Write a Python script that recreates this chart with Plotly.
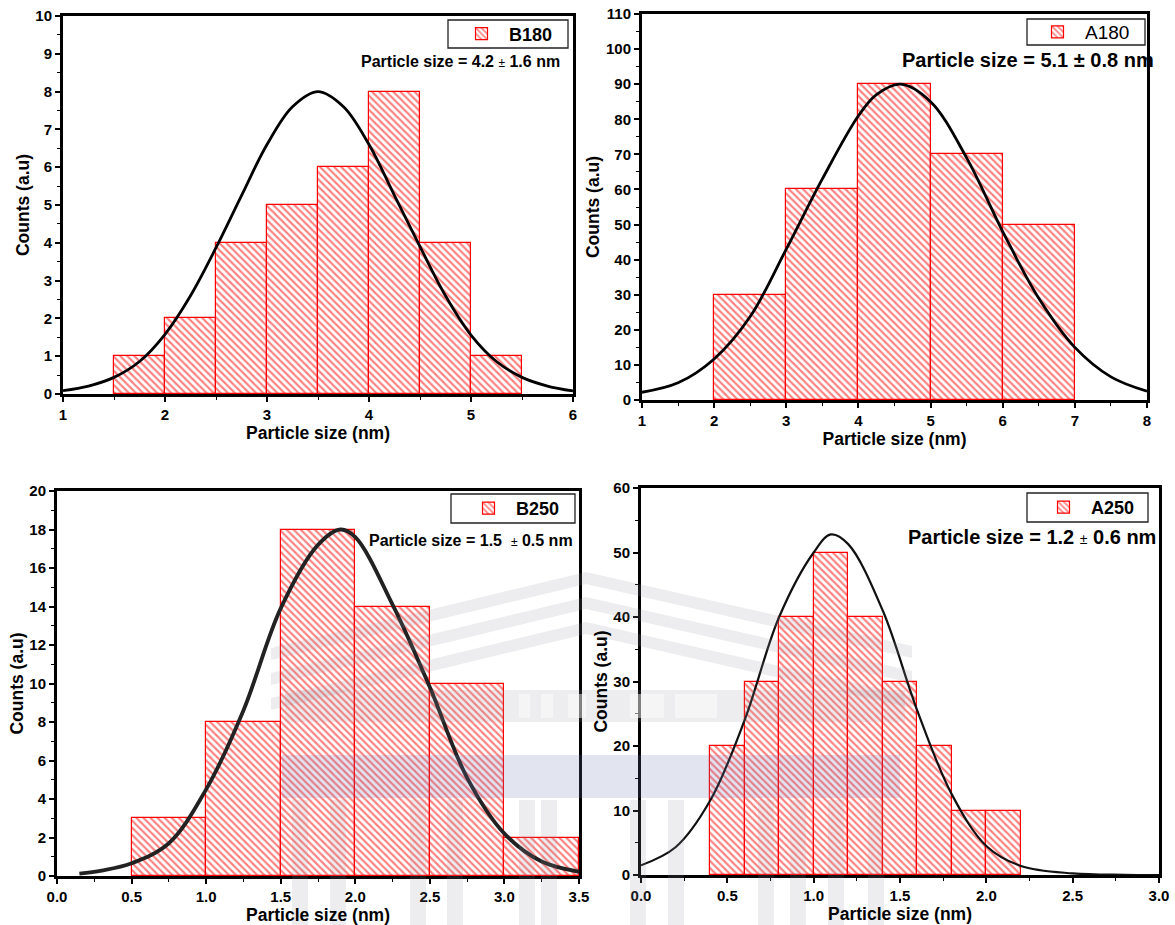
import plotly.graph_objects as go

W, H = 1175, 925

# ---------------- data ----------------
# B180
b180_bin_lo = [1.5, 2.0, 2.5, 3.0, 3.5, 4.0, 4.5, 5.0]
b180_bin_w = 0.5
b180_counts = [1, 2, 4, 5, 6, 8, 4, 1]
b180_curve_x = [1.0, 1.25, 1.5, 1.75, 2.0, 2.25, 2.5, 2.75, 3.0, 3.25, 3.5, 3.75, 4.0, 4.25, 4.5, 4.75, 5.0, 5.25, 5.5, 5.75, 6.0]
b180_curve_y = [0.09, 0.21, 0.44, 0.86, 1.58, 2.6, 3.87, 5.25, 6.6, 7.6, 8.0, 7.6, 6.6, 5.25, 3.9, 2.6, 1.56, 0.86, 0.44, 0.21, 0.08]

# A180
a180_bin_lo = [2, 3, 4, 5, 6]
a180_bin_w = 1.0
a180_counts = [30, 60, 90, 70, 50]
a180_curve_x = [1.0, 1.5, 2.0, 2.5, 3.0, 3.5, 4.0, 4.25, 4.58, 5.0, 5.5, 6.0, 6.5, 7.0, 7.5, 8.0]
a180_curve_y = [2.2, 4.9, 11.7, 23.8, 43, 63, 81, 87, 90, 85, 69, 48, 29, 15, 6.6, 2.5]

# B250
b250_bin_lo = [0.5, 1.0, 1.5, 2.0, 2.5, 3.0]
b250_bin_w = 0.5
b250_counts = [3, 8, 18, 14, 10, 2]
b250_curve_x = [0.15, 0.3, 0.5, 0.75, 1.0, 1.25, 1.5, 1.75, 1.9, 2.0, 2.25, 2.5, 2.75, 3.0, 3.25, 3.5]
b250_curve_y = [0.12, 0.28, 0.66, 1.7, 4.5, 8.6, 13.9, 17.2, 18.0, 17.6, 14.1, 9.8, 5.1, 2.2, 0.75, 0.22]

# A250
a250_bin_lo = [0.4, 0.6, 0.8, 1.0, 1.2, 1.4, 1.6, 1.8, 2.0]
a250_bin_w = 0.2
a250_counts = [20, 30, 40, 50, 40, 30, 20, 10, 10]
a250_curve_x = [0.0, 0.2, 0.4, 0.6, 0.8, 1.0, 1.1, 1.2, 1.4, 1.6, 1.8, 2.0, 2.2, 2.5, 2.8, 3.0]
a250_curve_y = [1.5, 4.3, 11.5, 24, 40, 50, 52.8, 51.3, 41, 25.5, 12.5, 4.5, 1.4, 0.25, 0.03, 0.0]

names = ["B180", "A180", "B250", "A250"]
x_ranges = [[1, 6], [1, 8], [0, 3.5], [0, 3.0]]
y_ranges = [[0, 10], [0, 110], [0, 20], [0, 60]]
x_dticks = [1, 1, 0.5, 0.5]
y_dticks = [1, 10, 2, 10]

# ---------------- layout geometry (pixels) ----------------
boxes = [  # left, right, top, bottom
    (63, 573, 16, 394),
    (642, 1147, 14, 400),
    (57, 579, 491, 876),
    (641, 1159, 488, 875),
]

FONT = "Liberation Sans, Arial, sans-serif"
RED = "#ff0000"

fig = go.Figure()

panels = [
    (b180_bin_lo, b180_bin_w, b180_counts, b180_curve_x, b180_curve_y),
    (a180_bin_lo, a180_bin_w, a180_counts, a180_curve_x, a180_curve_y),
    (b250_bin_lo, b250_bin_w, b250_counts, b250_curve_x, b250_curve_y),
    (a250_bin_lo, a250_bin_w, a250_counts, a250_curve_x, a250_curve_y),
]
curve_styles = [
    dict(color="#000000", width=2.8),
    dict(color="#000000", width=2.8),
    dict(color="#222222", width=3.8),
    dict(color="#111111", width=2.2),
]
legend_ids = ["legend", "legend2", "legend3", "legend4"]

for i, (lo, w, cnt, cx, cy) in enumerate(panels):
    sfx = "" if i == 0 else str(i + 1)
    centers = [v + w / 2 for v in lo]
    fig.add_trace(go.Bar(
        x=centers, y=cnt, width=w, name=names[i],
        xaxis="x" + sfx, yaxis="y" + sfx,
        marker=dict(color="white", line=dict(color=RED, width=1.2),
                    pattern=dict(shape="\\", fgcolor=RED, bgcolor="white",
                                 size=5, solidity=0.42)),
        legend=legend_ids[i], showlegend=True,
    ))
    fig.add_trace(go.Scatter(
        x=cx, y=cy, mode="lines", line=dict(shape="spline", **curve_styles[i]),
        xaxis="x" + sfx, yaxis="y" + sfx, showlegend=False,
    ))

layout = dict(
    width=W, height=H, margin=dict(l=0, r=0, t=0, b=0, autoexpand=False),
    paper_bgcolor="white", plot_bgcolor="white",
    barmode="overlay", bargap=0,
    font=dict(family=FONT, color="black"),
)

for i, (l, r, t, b) in enumerate(boxes):
    sfx = "" if i == 0 else str(i + 1)
    xd = [l / W, r / W]
    yd = [1 - b / H, 1 - t / H]
    tickfont = dict(family=FONT, size=15, weight="bold", color="black")
    layout["xaxis" + sfx] = dict(
        domain=xd, anchor="y" + sfx, range=x_ranges[i], dtick=x_dticks[i],
        tick0=0, showline=True, linewidth=3, linecolor="black", mirror=True,
        ticks="outside", ticklen=5, tickwidth=2, tickcolor="black",
        showgrid=False, zeroline=False, tickfont=tickfont,
        tickformat=".1f" if i >= 2 else "d",
        minor=dict(dtick=x_dticks[i] / 2, ticks="outside", ticklen=3, tickwidth=1, tickcolor="black"),
        title=dict(text="Particle size (nm)", standoff=0,
                   font=dict(family=FONT, size=17.5, weight="bold", color="black")),
    )
    layout["yaxis" + sfx] = dict(
        domain=yd, anchor="x" + sfx, range=y_ranges[i], dtick=y_dticks[i],
        showline=True, linewidth=3, linecolor="black", mirror=True,
        ticks="outside", ticklen=5, tickwidth=2, tickcolor="black",
        showgrid=False, zeroline=False, tickfont=tickfont,
        minor=dict(dtick=y_dticks[i] / 2, ticks="outside", ticklen=3, tickwidth=1, tickcolor="black"),
        title=dict(text="Counts (a.u)", standoff=2,
                   font=dict(family=FONT, size=17.5, weight="bold", color="black")),
    )

# legend frames (pixels: left, right, top, bottom) and legend anchor (right x, center y)
legend_frames = [(448, 568, 20, 48), (1027, 1145, 19, 45), (451, 575, 494, 523), (1027, 1148, 493, 522)]
legend_anchor = [(558, 34, True, 18), (1135, 32, False, 19), (565, 508.5, True, 18), (1140, 507.5, True, 18)]
shapes = []
for i, (fl, fr, ft, fb) in enumerate(legend_frames):
    shapes.append(dict(type="rect", xref="paper", yref="paper",
                       x0=fl / W, x1=fr / W, y0=1 - fb / H, y1=1 - ft / H,
                       line=dict(color="#222222", width=1.3), fillcolor="white", layer="above"))
    lx, ly, bold, fs = legend_anchor[i]
    layout[legend_ids[i]] = dict(
        x=lx / W, y=1 - ly / H, xanchor="right", yanchor="middle",
        bgcolor="rgba(0,0,0,0)", borderwidth=0,
        font=dict(family=FONT, size=fs, weight="bold" if bold else "normal", color="black"),
        itemwidth=45,
    )

# faint background watermark (building logo), drawn as translucent overlay
WM_GRAY = "rgba(150,150,160,0.17)"
WM_BLUE = "rgba(110,120,180,0.20)"
WM_WHITE = "rgba(255,255,255,0.45)"


def P(x, y):
    return f"{x / W:.5f},{1 - y / H:.5f}"


wm = []
# roof stripes
for k in range(3):
    d = 25 * k
    wm.append(("path", f"M{P(271, 648 + d)} L{P(586, 572 + d)} L{P(586, 584 + d)} L{P(271, 660 + d)} Z", WM_GRAY))
    wm.append(("path", f"M{P(586, 572 + d)} L{P(912, 646 + d)} L{P(912, 658 + d)} L{P(586, 584 + d)} Z", WM_GRAY))
# entablature band
wm.append(("rect", (285, 905, 690, 722), WM_GRAY))
# blue band
wm.append(("rect", (282, 900, 755, 798), WM_BLUE))
# columns
for cx0 in [292, 330, 410, 447, 519, 541, 630, 668, 758, 790, 828, 868]:
    wm.append(("rect", (cx0, cx0 + 16, 800, 925), WM_GRAY))
for kind, geo, col in wm:
    if kind == "path":
        shapes.append(dict(type="path", xref="paper", yref="paper", path=geo,
                           fillcolor=col, line=dict(width=0), layer="above"))
    else:
        x0, x1, y0, y1 = geo
        shapes.append(dict(type="rect", xref="paper", yref="paper",
                           x0=x0 / W, x1=x1 / W, y0=1 - y1 / H, y1=1 - y0 / H,
                           fillcolor=col, line=dict(width=0), layer="above"))
# window openings in band
for wx0, wx1 in [(519, 530), (541, 553), (568, 586), (630, 664), (675, 717)]:
    shapes.append(dict(type="rect", xref="paper", yref="paper",
                       x0=wx0 / W, x1=wx1 / W, y0=1 - 718 / H, y1=1 - 694 / H,
                       fillcolor=WM_WHITE, line=dict(width=0), layer="above"))
layout["shapes"] = shapes

PM_SMALL = '<span style="font-weight:normal;font-size:12px">±</span>'
PM_SMALL4 = '<span style="font-weight:normal;font-size:14px">±</span>'
ann = [
    dict(text="Particle size = 4.2 " + PM_SMALL + " 1.6 nm", x=562 / W, y=1 - 62 / H,
         xanchor="right", size=16),
    dict(text="Particle size = 5.1 ± 0.8 nm", x=900 / W, y=1 - 60 / H,
         xanchor="left", size=20),
    dict(text="Particle size = 1.5  " + PM_SMALL + " 0.5 nm", x=575 / W, y=1 - 540 / H,
         xanchor="right", size=16),
    dict(text="Particle size = 1.2 " + PM_SMALL4 + " 0.6 nm", x=906 / W, y=1 - 537 / H,
         xanchor="left", size=20),
]
layout["annotations"] = [
    dict(text=a["text"], x=a["x"], y=a["y"], xref="paper", yref="paper",
         xanchor=a["xanchor"], yanchor="middle", showarrow=False,
         font=dict(family=FONT, size=a["size"], weight="bold", color="black"))
    for a in ann
]

fig.update_layout(**layout)
fig.write_html("out.html")
